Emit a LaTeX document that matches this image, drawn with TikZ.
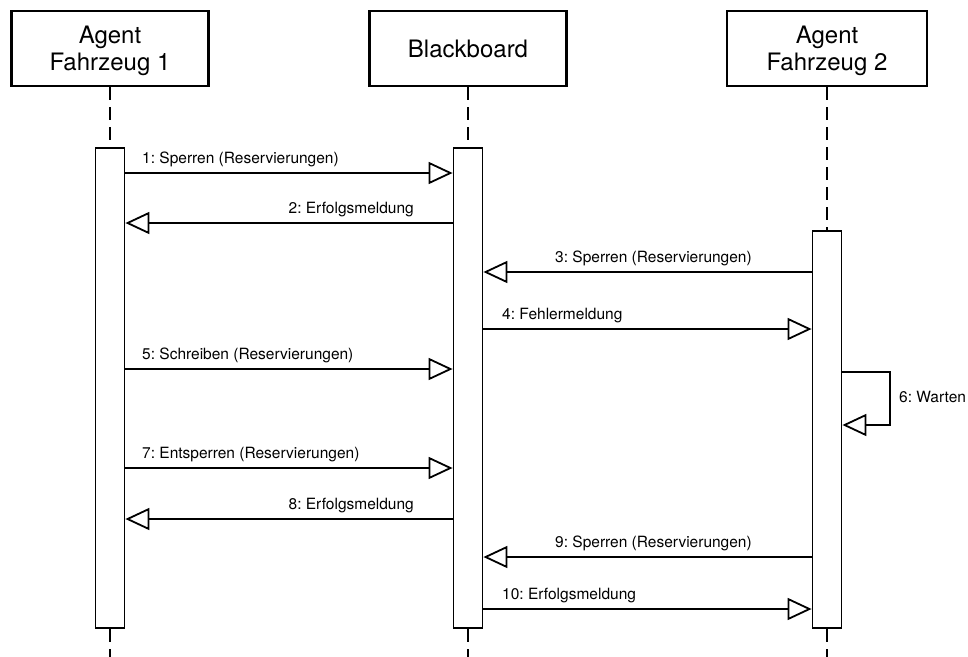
\documentclass[tikz,border=0pt]{standalone}
\usepackage{fontspec}
\setmainfont{TeX Gyre Heros}
\usetikzlibrary{arrows.meta}
\frenchspacing
\begin{document}
\begin{tikzpicture}[x=1pt,y=-1pt,
  head/.style={draw, line width=2.6pt, minimum width=197pt, minimum height=75pt,
    align=center, inner sep=0pt, text depth=0pt, font=\fontsize{24}{27}\selectfont},
  act/.style={draw, line width=1.8pt, fill=white, minimum width=29pt, inner sep=0pt},
  life/.style={line width=1.8pt, dash pattern=on 13pt off 7pt},
  msg/.style={line width=1.8pt, -{Triangle[open, length=24pt, width=22pt, fill=white]}},
  lbl/.style={inner sep=0pt, font=\fontsize{15.5}{18}\selectfont}
]
\useasboundingbox (0,0) rectangle (968,656);

% participants
\node[head] (hA) at (110,48.5) {Agent\\Fahrzeug 1};
\node[head] (hB) at (468,48.5) {Blackboard};
\node[head, minimum width=200pt] (hC) at (827,48.5) {Agent\\Fahrzeug 2};

% page bottom for the lifeline tails
\coordinate (bot) at (0,660);

% lifelines
\draw[life] (hA.south) -- (110,147) coordinate (tA);
\draw[life] (hB.south) -- (468,147) coordinate (tB);
\draw[life] (hC.south) -- (827,230) coordinate (tC);
\draw[life] (110,629) coordinate (sA) -- (sA |- bot);
\draw[life] (468,629) coordinate (sB) -- (sB |- bot);
\draw[life] (827,629) coordinate (sC) -- (sC |- bot);

% activation bars
\node[act, minimum height=480pt] (aA) at (110,388) {};
\node[act, minimum height=480pt] (aB) at (468,388) {};
\node[act, minimum height=397pt] (aC) at (827,429.5) {};

% message levels
\coordinate (y1) at (0,173);
\coordinate (y2) at (0,223);
\coordinate (y3) at (0,272);
\coordinate (y4) at (0,329);
\coordinate (y5) at (0,369);
\coordinate (y6) at (0,372);
\coordinate (y6r) at (0,425);
\coordinate (y7) at (0,468);
\coordinate (y8) at (0,519);
\coordinate (y9) at (0,557);
\coordinate (y10) at (0,609);

% messages
\draw[msg] (aA.east |- y1) -- (aB.west |- y1);
\node[lbl, anchor=base west] (l1) at (142,163) {1: Sperren (Reservierungen)};

\draw[msg] (aB.west |- y2) -- (aA.east |- y2);
\node[lbl, anchor=base east] (l2) at (414,213) {2: Erfolgsmeldung};

\draw[msg] (aC.west |- y3) -- (aB.east |- y3);
\node[lbl, anchor=base west] (l3) at (555,262) {3: Sperren (Reservierungen)};

\draw[msg] (aB.east |- y4) -- (aC.west |- y4);
\node[lbl, anchor=base west] (l4) at (502,319) {4: Fehlermeldung};

\draw[msg] (aA.east |- y5) -- (aB.west |- y5);
\node[lbl, anchor=base west] (l5) at (142,359) {5: Schreiben (Reservierungen)};

% self call
\coordinate (w1) at (890,372);
\coordinate (w2) at (890,425);
\draw[msg] (aC.east |- y6) -- (w1) -- (w2) -- (aC.east |- y6r);
\node[lbl, anchor=base west] (l6) at (899,402) {6: Warten};

\draw[msg] (aA.east |- y7) -- (aB.west |- y7);
\node[lbl, anchor=base west] (l7) at (142,458) {7: Entsperren (Reservierungen)};

\draw[msg] (aB.west |- y8) -- (aA.east |- y8);
\node[lbl, anchor=base east] (l8) at (414,509) {8: Erfolgsmeldung};

\draw[msg] (aC.west |- y9) -- (aB.east |- y9);
\node[lbl, anchor=base west] (l9) at (555,547) {9: Sperren (Reservierungen)};

\draw[msg] (aB.east |- y10) -- (aC.west |- y10);
\node[lbl, anchor=base west] (l10) at (502,599) {10: Erfolgsmeldung};
\end{tikzpicture}
\end{document}
